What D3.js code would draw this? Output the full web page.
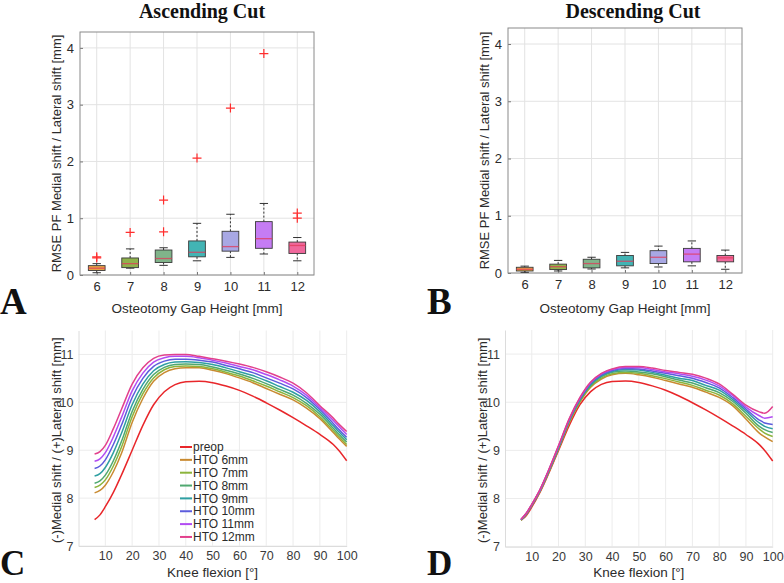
<!DOCTYPE html>
<html><head><meta charset="utf-8">
<script src="https://cdn.jsdelivr.net/npm/d3@7"></script>
<style>html,body{margin:0;padding:0;background:#fff;}svg{display:block;}</style>
</head><body>
<script>
// ---------- DATA ----------
const gapHeights = [6, 7, 8, 9, 10, 11, 12];
const boxColors = ["#e6a444", "#8fb24c", "#80b48a", "#42b4b4", "#a8a8e4", "#c57cf4", "#f0689c"];

// Ascending cut (panel A)
const ascLow  = [0.04, 0.12, 0.17, 0.25, 0.31, 0.37, 0.25];
const ascQ1   = [0.08, 0.13, 0.22, 0.32, 0.42, 0.47, 0.38];
const ascMed  = [0.12, 0.20, 0.29, 0.40, 0.50, 0.64, 0.52];
const ascQ3   = [0.165, 0.30, 0.44, 0.60, 0.77, 0.94, 0.58];
const ascHigh = [0.20, 0.46, 0.48, 0.91, 1.07, 1.26, 0.66];
const ascOut  = [[0.30, 0.32], [0.75], [0.76, 1.32], [2.06], [2.94], [3.90], [1.00, 1.09]];

// Descending cut (panel B)
const descLow  = [0.012, 0.035, 0.07, 0.09, 0.105, 0.125, 0.065];
const descQ1   = [0.035, 0.06, 0.09, 0.125, 0.165, 0.195, 0.195];
const descMed  = [0.065, 0.11, 0.165, 0.205, 0.275, 0.33, 0.265];
const descQ3   = [0.10, 0.155, 0.24, 0.305, 0.39, 0.43, 0.305];
const descHigh = [0.12, 0.22, 0.275, 0.36, 0.47, 0.56, 0.40];
const descOut  = [[], [], [], [], [], [], []];

const boxYTicks = [0, 1, 2, 3, 4];

// Knee flexion curves (panels C & D)
const knee = [6, 8, 10, 13, 16, 20, 24, 28, 32, 36, 40, 45, 50, 55, 60, 65, 70, 75, 80, 85, 90, 95, 97, 100];
const seriesNames = ["preop", "HTO 6mm", "HTO 7mm", "HTO 8mm", "HTO 9mm", "HTO 10mm", "HTO 11mm", "HTO 12mm"];
const lineColors = ["#e8262a", "#c98a30", "#8cb43c", "#4fa870", "#2e9fa2", "#5c5cdc", "#b24cf2", "#e2408c"];

const preop = [7.55, 7.65, 7.82, 8.12, 8.48, 9.00, 9.52, 9.95, 10.22, 10.37, 10.43, 10.44, 10.41, 10.34, 10.25, 10.13, 9.99, 9.84, 9.68, 9.51, 9.33, 9.12, 9.00, 8.78];

const ascHTO6  = [8.11, 8.16, 8.27, 8.55, 8.93, 9.58, 10.08, 10.44, 10.62, 10.70, 10.72, 10.72, 10.67, 10.60, 10.51, 10.41, 10.29, 10.17, 10.05, 9.88, 9.66, 9.37, 9.25, 9.08];
const ascHTO7  = [8.22, 8.27, 8.38, 8.67, 9.06, 9.70, 10.18, 10.51, 10.68, 10.75, 10.76, 10.75, 10.70, 10.63, 10.55, 10.45, 10.34, 10.22, 10.10, 9.93, 9.70, 9.41, 9.29, 9.12];
const ascHTO8  = [8.31, 8.36, 8.48, 8.78, 9.18, 9.81, 10.27, 10.58, 10.73, 10.79, 10.80, 10.79, 10.74, 10.67, 10.59, 10.50, 10.39, 10.27, 10.15, 9.98, 9.75, 9.46, 9.34, 9.17];
const ascHTO9  = [8.46, 8.51, 8.64, 8.95, 9.35, 9.95, 10.38, 10.66, 10.79, 10.84, 10.85, 10.83, 10.79, 10.72, 10.64, 10.56, 10.45, 10.33, 10.21, 10.04, 9.80, 9.51, 9.39, 9.22];
const ascHTO10 = [8.62, 8.67, 8.80, 9.12, 9.52, 10.10, 10.50, 10.75, 10.86, 10.90, 10.90, 10.88, 10.84, 10.77, 10.70, 10.62, 10.51, 10.40, 10.28, 10.10, 9.85, 9.56, 9.44, 9.27];
const ascHTO11 = [8.77, 8.82, 8.95, 9.28, 9.68, 10.24, 10.61, 10.84, 10.93, 10.96, 10.96, 10.93, 10.88, 10.82, 10.75, 10.68, 10.58, 10.47, 10.34, 10.15, 9.89, 9.62, 9.50, 9.33];
const ascHTO12 = [8.92, 8.97, 9.10, 9.45, 9.85, 10.38, 10.72, 10.92, 10.99, 11.00, 11.00, 10.96, 10.91, 10.86, 10.80, 10.73, 10.64, 10.53, 10.40, 10.20, 9.93, 9.67, 9.55, 9.39];

const descHTO6  = [7.55, 7.67, 7.85, 8.14, 8.50, 9.03, 9.57, 10.00, 10.31, 10.48, 10.57, 10.60, 10.57, 10.52, 10.45, 10.38, 10.31, 10.21, 10.10, 9.93, 9.65, 9.36, 9.28, 9.18];
const descHTO7  = [7.55, 7.68, 7.86, 8.15, 8.51, 9.04, 9.59, 10.02, 10.33, 10.50, 10.59, 10.62, 10.60, 10.55, 10.49, 10.42, 10.35, 10.25, 10.15, 9.97, 9.71, 9.44, 9.36, 9.29];
const descHTO8  = [7.56, 7.68, 7.86, 8.16, 8.52, 9.05, 9.61, 10.04, 10.35, 10.53, 10.62, 10.65, 10.63, 10.59, 10.53, 10.46, 10.40, 10.30, 10.20, 10.02, 9.77, 9.50, 9.43, 9.37];
const descHTO9  = [7.56, 7.69, 7.87, 8.16, 8.53, 9.06, 9.62, 10.06, 10.37, 10.55, 10.64, 10.68, 10.67, 10.62, 10.56, 10.50, 10.45, 10.35, 10.25, 10.06, 9.82, 9.57, 9.50, 9.45];
const descHTO10 = [7.56, 7.69, 7.87, 8.17, 8.54, 9.08, 9.63, 10.07, 10.39, 10.57, 10.66, 10.70, 10.69, 10.65, 10.60, 10.55, 10.50, 10.41, 10.30, 10.10, 9.86, 9.63, 9.57, 9.54];
const descHTO11 = [7.57, 7.70, 7.88, 8.17, 8.55, 9.09, 9.65, 10.09, 10.41, 10.59, 10.68, 10.72, 10.72, 10.68, 10.63, 10.59, 10.54, 10.46, 10.34, 10.14, 9.90, 9.72, 9.67, 9.70];
const descHTO12 = [7.57, 7.70, 7.88, 8.18, 8.55, 9.10, 9.66, 10.10, 10.42, 10.60, 10.69, 10.74, 10.74, 10.71, 10.66, 10.62, 10.58, 10.50, 10.38, 10.17, 9.94, 9.80, 9.77, 9.91];

const kneeTicks = [10, 20, 30, 40, 50, 60, 70, 80, 90, 100];
const shiftTicks = [7, 8, 9, 10, 11];

// ---------- DRAW ----------
const W = 784, H = 583;
const svg = d3.select("body").append("svg").attr("width", W).attr("height", H)
  .style("font-family", "'Liberation Sans', Arial, sans-serif");

const SANS = "'Liberation Sans', Arial, sans-serif";
const SERIF = "'Liberation Serif', 'Times New Roman', serif";
const TXT = "#2b2b2b";

function boxPanel(fr, low, q1, med, q3, high, outs, title, titleX, letter, letterX) {
  const x = d3.scalePoint().domain(gapHeights).range([fr.x0, fr.x1]).padding(0.5);
  const y = d3.scaleLinear().domain([0, 4.28]).range([fr.y1, fr.y0]);
  const g = svg.append("g");
  g.selectAll(".gx").data(gapHeights).join("line")
    .attr("x1", d => x(d)).attr("x2", d => x(d)).attr("y1", fr.y0).attr("y2", fr.y1)
    .attr("stroke", "#e3e3e3").attr("stroke-width", 1);
  g.selectAll(".gy").data(boxYTicks).join("line")
    .attr("x1", fr.x0).attr("x2", fr.x1).attr("y1", d => y(d)).attr("y2", d => y(d))
    .attr("stroke", "#e3e3e3").attr("stroke-width", 1);
  const ax = g.append("g").attr("transform", `translate(0,${fr.y1})`)
    .call(d3.axisBottom(x).tickSizeInner(-3).tickSizeOuter(0).tickPadding(7));
  const ay = g.append("g").attr("transform", `translate(${fr.x0},0)`)
    .call(d3.axisLeft(y).tickValues(boxYTicks).tickSizeInner(-3).tickSizeOuter(0).tickPadding(6).tickFormat(d3.format("d")));
  [ax, ay].forEach(a => {
    a.select(".domain").remove();
    a.selectAll(".tick line").attr("stroke", "#777");
    a.selectAll(".tick text").attr("fill", TXT).style("font-size", "13px").style("font-family", SANS);
  });
  g.append("rect").attr("x", fr.x0).attr("y", fr.y0).attr("width", fr.x1 - fr.x0).attr("height", fr.y1 - fr.y0)
    .attr("fill", "none").attr("stroke", "#8a8a8a").attr("stroke-width", 1);
  const bw = x.step() * 0.5;
  gapHeights.forEach((gh, i) => {
    const cx = x(gh);
    const bg = g.append("g");
    bg.append("line").attr("x1", cx).attr("x2", cx).attr("y1", y(q3[i])).attr("y2", y(high[i]))
      .attr("stroke", "#333").attr("stroke-width", 1).attr("stroke-dasharray", "2,2");
    bg.append("line").attr("x1", cx).attr("x2", cx).attr("y1", y(q1[i])).attr("y2", y(low[i]))
      .attr("stroke", "#333").attr("stroke-width", 1).attr("stroke-dasharray", "2,2");
    [high[i], low[i]].forEach(v => bg.append("line")
      .attr("x1", cx - bw / 4).attr("x2", cx + bw / 4).attr("y1", y(v)).attr("y2", y(v))
      .attr("stroke", "#333").attr("stroke-width", 1));
    bg.append("rect").attr("x", cx - bw / 2).attr("width", bw)
      .attr("y", y(q3[i])).attr("height", Math.max(1, y(q1[i]) - y(q3[i])))
      .attr("fill", boxColors[i]).attr("stroke", "#3a3a3a").attr("stroke-width", 0.9);
    bg.append("line").attr("x1", cx - bw / 2).attr("x2", cx + bw / 2).attr("y1", y(med[i])).attr("y2", y(med[i]))
      .attr("stroke", "#e03a5a").attr("stroke-opacity", 0.75).attr("stroke-width", 1.3);
    outs[i].forEach(v => {
      const py = y(v), s = 4.5;
      bg.append("path").attr("d", `M${cx - s},${py}H${cx + s}M${cx},${py - s}V${py + s}`)
        .attr("stroke", "#ff2d2d").attr("stroke-width", 1.2).attr("fill", "none");
    });
  });
  svg.append("text").attr("x", (fr.x0 + fr.x1) / 2).attr("y", 313).attr("text-anchor", "middle")
    .attr("fill", TXT).style("font-size", "13.5px").style("font-family", SANS).text("Osteotomy Gap Height [mm]");
  svg.append("text").attr("transform", `translate(${fr.x0 - 19},${(fr.y0 + fr.y1) / 2}) rotate(-90)`)
    .attr("text-anchor", "middle").attr("fill", TXT).style("font-size", "13px").style("font-family", SANS)
    .text("RMSE PF Medial shift / Lateral shift [mm]");
  svg.append("text").attr("x", titleX).attr("y", 18).attr("text-anchor", "middle")
    .style("font-family", SERIF).style("font-weight", "bold").style("font-size", "20px").attr("fill", "#111").text(title);
  svg.append("text").attr("x", letterX).attr("y", 314)
    .style("font-family", SERIF).style("font-weight", "bold").style("font-size", "37px").attr("fill", "#111").text(letter);
}

boxPanel({x0: 80, x1: 314, y0: 32, y1: 275}, ascLow, ascQ1, ascMed, ascQ3, ascHigh, ascOut, "Ascending Cut", 202, "A", 0);
boxPanel({x0: 508, x1: 742, y0: 28, y1: 273}, descLow, descQ1, descMed, descQ3, descHigh, descOut, "Descending Cut", 633, "B", 427);

function linePanel(fr, series, letter, letterX, letterY, showLegend) {
  const x = d3.scaleLinear().domain([0, 100]).range([fr.x0, fr.x1]);
  const y = d3.scaleLinear().domain([7, 11.5]).range([fr.y1, fr.y0]);
  const g = svg.append("g");
  g.selectAll(".gx").data(kneeTicks).join("line")
    .attr("x1", d => x(d)).attr("x2", d => x(d)).attr("y1", fr.y0).attr("y2", fr.y1)
    .attr("stroke", "#ececec").attr("stroke-width", 1);
  g.selectAll(".gy").data(shiftTicks).join("line")
    .attr("x1", fr.x0).attr("x2", fr.x1).attr("y1", d => y(d)).attr("y2", d => y(d))
    .attr("stroke", "#ececec").attr("stroke-width", 1);
  const ax = g.append("g").attr("transform", `translate(0,${fr.y1})`)
    .call(d3.axisBottom(x).tickValues(kneeTicks).tickSize(0).tickPadding(5).tickFormat(d3.format("d")));
  const ay = g.append("g").attr("transform", `translate(${fr.x0},0)`)
    .call(d3.axisLeft(y).tickValues(shiftTicks).tickSize(0).tickPadding(5).tickFormat(d3.format("d")));
  [ax, ay].forEach(a => {
    a.select(".domain").attr("stroke", "#dcdcdc");
    a.selectAll(".tick text").attr("fill", "#3a3a3a").style("font-size", "12.5px").style("font-family", SANS);
  });
  const line = d3.line().x((d, i) => x(knee[i])).y(d => y(d)).curve(d3.curveMonotoneX);
  series.forEach((s, k) => {
    g.append("path").datum(s).attr("d", line).attr("fill", "none")
      .attr("stroke", lineColors[k]).attr("stroke-width", 1.5);
  });
  svg.append("text").attr("x", (fr.x0 + fr.x1) / 2).attr("y", 577).attr("text-anchor", "middle")
    .attr("fill", TXT).style("font-size", "13.5px").style("font-family", SANS).text("Knee flexion [°]");
  svg.append("text").attr("transform", `translate(${fr.x0 - 18},${(fr.y0 + fr.y1) / 2 + 2}) rotate(-90)`)
    .attr("text-anchor", "middle").attr("fill", TXT).style("font-size", "13px").style("font-family", SANS)
    .text("(-)Medial shift / (+)Lateral shift [mm]");
  svg.append("text").attr("x", letterX).attr("y", letterY)
    .style("font-family", SERIF).style("font-weight", "bold").style("font-size", "35px").attr("fill", "#111").text(letter);
  if (showLegend) {
    const lg = svg.append("g").attr("transform", "translate(180,447)");
    seriesNames.forEach((nm, k) => {
      const ly = k * 12.85;
      lg.append("line").attr("x1", 0).attr("x2", 12).attr("y1", ly).attr("y2", ly)
        .attr("stroke", lineColors[k]).attr("stroke-width", 2);
      lg.append("text").attr("x", 13).attr("y", ly + 4.2).attr("fill", TXT)
        .style("font-size", "12px").style("font-family", SANS).text(nm);
    });
  }
}

linePanel({x0: 78.5, x1: 346.7, y0: 330.5, y1: 546},
  [preop, ascHTO6, ascHTO7, ascHTO8, ascHTO9, ascHTO10, ascHTO11, ascHTO12], "C", 0, 575, true);
linePanel({x0: 505, x1: 772.7, y0: 330, y1: 546.7},
  [preop, descHTO6, descHTO7, descHTO8, descHTO9, descHTO10, descHTO11, descHTO12], "D", 427, 575, false);
</script>
</body></html>
